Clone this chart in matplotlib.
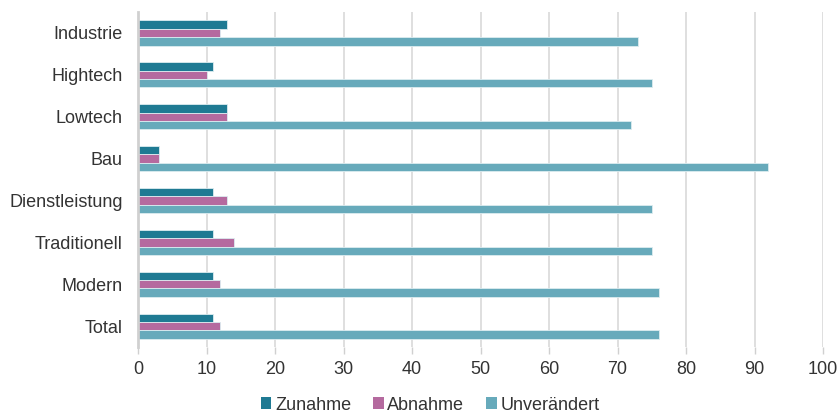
import matplotlib
matplotlib.use("Agg")
import matplotlib.pyplot as plt
import numpy as np

plt.rcParams['font.family'] = ['Liberation Sans', 'DejaVu Sans']

categories = ["Industrie", "Hightech", "Lowtech", "Bau", "Dienstleistung", "Traditionell", "Modern", "Total"]
zunahme = [13, 11, 13, 3, 11, 11, 11, 11]
abnahme = [12, 10, 13, 3, 13, 14, 12, 12]
unveraendert = [73, 75, 72, 92, 75, 75, 76, 76]
series_names = ["Zunahme", "Abnahme", "Unverändert"]
colors = ["#1F7A93", "#B56A9F", "#67AABB"]
xticks = [0, 10, 20, 30, 40, 50, 60, 70, 80, 90, 100]

fig = plt.figure(figsize=(8.38, 4.13), dpi=100)
ax = fig.add_axes([138/838, 1-347/413, (823-138)/838, (347-12)/413])

y = np.arange(len(categories))
h = 0.2
for i, (vals, name, c) in enumerate(zip([zunahme, abnahme, unveraendert], series_names, colors)):
    ax.barh(y + (i - 1) * h, vals, height=h, color=c, label=name,
            edgecolor="#dcecf0", linewidth=0.6)

ax.set_ylim(len(categories) - 0.5, -0.5)
ax.set_xlim(0, 100)
ax.set_yticks(y)
ax.set_yticklabels(categories, fontsize=13, color="#333333")
ax.set_xticks(xticks)
ax.set_xticklabels([str(t) for t in xticks], fontsize=13, color="#333333")
ax.tick_params(axis='y', length=0, pad=11)
ax.tick_params(axis='x', length=5, color="#d0d0d0", width=1, pad=5)
ax.xaxis.grid(True, color="#d9d9d9", linewidth=1.2)
ax.set_axisbelow(True)
for s in ["top", "right", "bottom"]:
    ax.spines[s].set_visible(False)
ax.spines["left"].set_color("#d0d0d0")
ax.spines["left"].set_linewidth(2)

leg = fig.legend(loc="center", bbox_to_anchor=(430/838, 1-405/413), ncol=3, frameon=False,
                 fontsize=13, handlelength=0.6, handleheight=0.6, handletextpad=0.2,
                 columnspacing=1.2)
for t in leg.get_texts():
    t.set_color("#333333")
for p in leg.get_patches():
    p.set_edgecolor("none")

fig.savefig("out.png", dpi=100)
